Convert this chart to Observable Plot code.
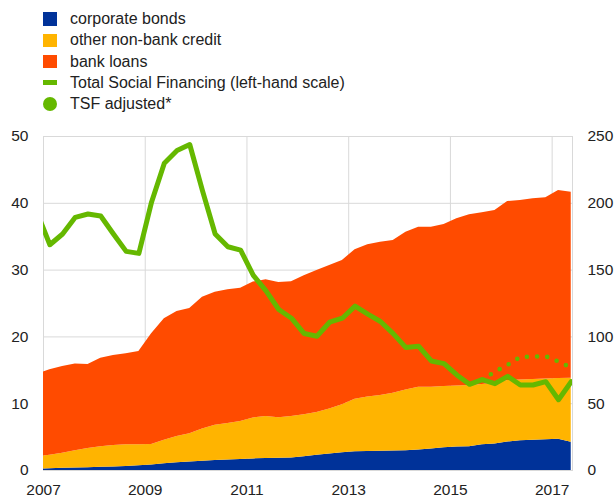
<!DOCTYPE html>
<html><head><meta charset="utf-8">
<script src="https://cdn.jsdelivr.net/npm/d3@7"></script>
<script src="https://cdn.jsdelivr.net/npm/@observablehq/plot@0.6"></script>
<style>
body{margin:0;background:#fff;font-family:"Liberation Sans",Arial,sans-serif;color:#222;}
#legend{position:relative;width:615px;height:118px;}
.item{position:absolute;left:0;height:20px;width:615px;}
.sw{position:absolute;left:43px;}
.lb{position:absolute;left:70px;top:0;font-size:16px;line-height:20px;white-space:nowrap;}
#chart svg{display:block;}
</style></head><body>
<div id="legend"></div>
<div id="chart"></div>
<script>
// Quarterly observations, first one (Q4 2006) falls just left of the 2007 edge
const quarters = d3.range(43).map(i => 2006.875 + i * 0.25);

const seriesNames = ["corporate bonds", "other non-bank credit", "bank loans"];
const seriesColors = ["#003299", "#ffb400", "#ff4b00"];
const green = "#65b800";

// Stocks (right-hand scale)
const corporateBonds = [1.0,1.3,1.6,1.9,2.1,2.4,2.7,3.0,3.5,4.2,5.0,5.8,6.4,7.0,7.4,7.9,8.3,8.7,8.9,9.1,9.4,10.3,11.5,12.3,13.2,14.0,14.3,14.5,14.6,14.8,15.3,16.0,17.0,17.5,17.8,19.2,19.8,21.3,22.3,22.7,23.0,23.3,21.2];
const otherNonBank = [9.2,10.2,11.4,12.9,14.4,15.3,16.0,16.3,15.7,15.3,17.7,19.7,21.1,24.0,26.4,27.3,28.4,30.6,31.6,30.3,31.1,31.5,32.0,33.7,36.1,39.3,40.7,41.6,43.2,45.5,47.1,46.4,45.9,45.8,45.8,45.1,45.6,46.0,45.5,45.4,45.4,45.5,47.9];
const bankLoans = [61.8,64.0,64.8,65.0,62.8,66.4,67.4,68.0,69.9,82.8,90.8,93.5,93.8,98.7,99.7,100.0,99.8,101.7,102.2,101.4,100.8,103.9,106.2,107.5,107.9,111.9,113.9,114.8,114.4,118.1,119.7,119.7,121.2,125.1,127.8,128.6,129.2,134.0,134.3,135.3,135.7,140.8,139.2];

// Total Social Financing (left-hand scale)
const tsf = [38.6,33.8,35.4,37.9,38.4,38.1,35.4,32.8,32.5,40.2,46.0,47.9,48.8,41.9,35.4,33.5,33.0,29.2,26.9,24.1,22.8,20.5,20.1,22.2,22.8,24.6,23.4,22.3,20.5,18.4,18.6,16.4,16.0,14.3,12.9,13.6,13.0,14.1,12.8,12.8,13.3,10.6,13.3];
// TSF adjusted*, starting at quarter index 35 (2015.625)
const adjustedStart = 35;
const tsfAdjusted = [13.6,14.8,15.8,17.0,17.05,17.1,16.3,15.4];

const xTicks = [2007, 2009, 2011, 2013, 2015, 2017];
const leftTicks = [0, 10, 20, 30, 40, 50];
const rightFactor = 5; // 250 right = 50 left

// legend
const legend = document.getElementById("legend");
const items = [
  {label: seriesNames[0], kind: "sq", color: seriesColors[0]},
  {label: seriesNames[1], kind: "sq", color: seriesColors[1]},
  {label: seriesNames[2], kind: "sq", color: seriesColors[2]},
  {label: "Total Social Financing (left-hand scale)", kind: "line", color: green},
  {label: "TSF adjusted*", kind: "dot", color: green}
];
items.forEach((it, i) => {
  const row = document.createElement("div");
  row.className = "item";
  row.style.top = (9 + i * 21.3) + "px";
  const sw = document.createElement("div");
  sw.className = "sw";
  sw.style.background = it.color;
  if (it.kind === "sq") { sw.style.width = "14px"; sw.style.height = "13.5px"; sw.style.top = "3.3px"; }
  else if (it.kind === "line") { sw.style.width = "14px"; sw.style.height = "5px"; sw.style.top = "7.5px"; }
  else { sw.style.width = "14px"; sw.style.height = "14px"; sw.style.top = "3px"; sw.style.borderRadius = "50%"; }
  const lb = document.createElement("div");
  lb.className = "lb";
  lb.textContent = it.label;
  row.appendChild(sw); row.appendChild(lb);
  legend.appendChild(row);
});

const stock = [];
[corporateBonds, otherNonBank, bankLoans].forEach((arr, s) => {
  arr.forEach((v, i) => stock.push({date: quarters[i], series: seriesNames[s], value: v}));
});
const tsfRows = tsf.map((v, i) => ({date: quarters[i], v}));
const adjRows = tsfAdjusted.map((v, i) => ({date: quarters[adjustedStart + i], v}));

const chart = Plot.plot({
  width: 615, height: 380,
  marginTop: 18, marginBottom: 28, marginLeft: 43, marginRight: 43,
  style: {fontFamily: "'Liberation Sans', Arial, sans-serif", fontSize: "15.5px", color: "#222", background: "#fff", overflow: "visible"},
  x: {domain: [2007, 2017.4], label: null},
  y: {domain: [0, 50], label: null},
  color: {domain: seriesNames, range: seriesColors},
  marks: [
    Plot.gridY(leftTicks, {stroke: "#d9d9d9", strokeOpacity: 1}),
    Plot.gridX(xTicks, {stroke: "#d9d9d9", strokeOpacity: 1}),
    Plot.frame({stroke: "#d9d9d9"}),
    Plot.areaY(stock, {x: "date", y: d => d.value / rightFactor, fill: "series", z: "series", order: seriesNames, clip: true}),
    Plot.lineY(tsfRows, {x: "date", y: "v", stroke: green, strokeWidth: 5, strokeLinejoin: "round", clip: true}),
    Plot.lineY(adjRows, {x: "date", y: "v", stroke: green, strokeWidth: 4.6, strokeDasharray: "0 10.2", strokeLinecap: "round", clip: true}),
    Plot.axisX({ticks: xTicks, tickFormat: d => String(d), tickSize: 0, tickPadding: 13, label: null}),
    Plot.axisY({anchor: "left", ticks: leftTicks, tickSize: 0, tickPadding: 15, label: null}),
    Plot.axisY({anchor: "right", ticks: leftTicks, tickFormat: d => String(d * rightFactor), tickSize: 0, tickPadding: 15, label: null})
  ]
});
document.getElementById("chart").appendChild(chart);
</script>
</body></html>
